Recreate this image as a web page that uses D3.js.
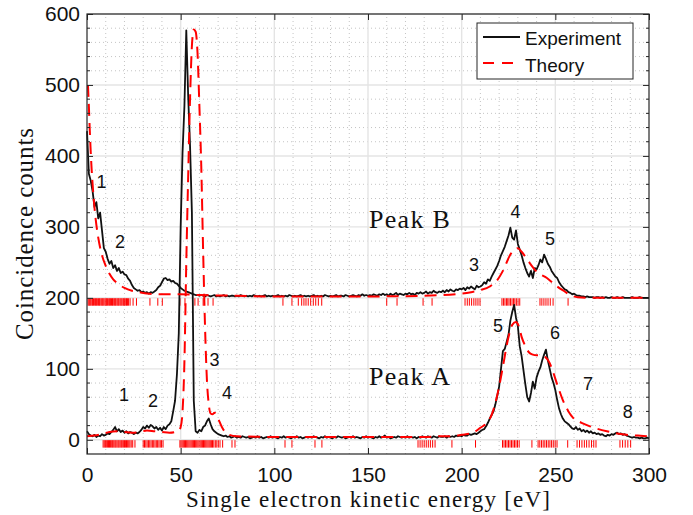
<!DOCTYPE html>
<html>
<head>
<meta charset="utf-8">
<script src="https://cdn.jsdelivr.net/npm/d3@7"></script>
<style>
  body { margin: 0; background: #fff; }
  svg { display: block; }
</style>
</head>
<body>
<svg id="chart" width="693" height="515"></svg>
<script>
// ---- Data -----------------------------------------------------------------
// Measured coincidence counts, 1 eV bins from 0 to 300 eV.
const energy = d3.range(0, 301, 1);

// Peak A (plotted without offset)
const expPeakA = [
  12, 8, 6, 5, 7, 4, 6, 5, 8, 6,
  7, 9, 8, 11, 14, 18, 12, 15, 11, 13,
  10, 12, 9, 11, 10, 8, 10, 9, 11, 14,
  18, 16, 20, 17, 21, 19, 16, 18, 14, 17,
  13, 18, 15, 20, 22, 26, 40, 55, 92, 150,
  300, 405, 470, 577, 485, 415, 320, 55, 12, 10,
  14, 12, 18, 20, 26, 30, 22, 15, 12, 10,
  8, 7, 6, 5, 6, 4, 5, 3, 4, 5,
  3, 4, 3, 5, 4, 3, 4, 2, 3, 4,
  3, 5, 3, 4, 2, 3, 4, 3, 5, 3,
  4, 3, 2, 4, 3, 5, 3, 4, 3, 2,
  4, 3, 5, 3, 4, 2, 3, 4, 3, 4,
  3, 5, 4, 3, 2, 4, 3, 5, 3, 4,
  3, 2, 4, 3, 5, 4, 3, 4, 2, 3,
  4, 3, 5, 3, 4, 3, 2, 4, 3, 5,
  3, 4, 3, 2, 4, 3, 5, 3, 4, 6,
  3, 4, 2, 3, 4, 3, 5, 4, 3, 4,
  3, 5, 3, 4, 3, 4, 2, 4, 3, 5,
  4, 3, 5, 4, 3, 5, 4, 3, 5, 4,
  4, 5, 3, 5, 4, 5, 4, 6, 5, 6,
  5, 7, 6, 6, 8, 7, 8, 9, 8, 10,
  12, 14, 15, 19, 24, 30, 35, 40, 50, 62,
  75, 100, 125, 128, 138, 148, 168, 180, 190, 172,
  160, 132, 118, 98, 78, 60, 54, 66, 82, 72,
  88, 96, 102, 112, 120, 127, 112, 100, 88, 80,
  70, 56, 44, 36, 30, 26, 24, 22, 19, 16,
  15, 18, 14, 16, 12, 14, 11, 13, 10, 12,
  9, 10, 8, 9, 7, 8, 6, 5, 7, 6,
  8, 7, 9, 10, 8, 9, 7, 8, 6, 5,
  4, 3, 4, 3, 3, 2, 3, 2, 2, 3,
  2
];

// Peak B (plotted shifted up by peakBOffset)
const expPeakB = [
  235, 175, 165, 150, 128, 135, 112, 120, 95, 70,
  65, 55, 48, 52, 42, 46, 38, 42, 35, 37,
  33, 32, 27, 24, 18, 14, 12, 10, 11, 8,
  9, 7, 8, 6, 8, 7, 9, 11, 15, 17,
  22, 27, 28, 25, 26, 23, 24, 21, 20, 17,
  14, 12, 10, 9, 8, 7, 6, 5, 4, 4,
  3, 4, 3, 2, 4, 3, 2, 3, 4, 2,
  3, 2, 3, 4, 2, 3, 2, 3, 3, 2,
  3, 2, 4, 3, 2, 3, 2, 3, 2, 4,
  3, 2, 3, 2, 3, 4, 2, 3, 2, 3,
  2, 3, 4, 2, 3, 2, 3, 2, 4, 3,
  2, 3, 2, 3, 4, 2, 3, 2, 3, 2,
  3, 4, 2, 3, 2, 3, 2, 4, 3, 2,
  3, 2, 3, 4, 2, 3, 3, 2, 4, 3,
  2, 3, 4, 3, 2, 4, 3, 5, 3, 4,
  3, 4, 3, 5, 4, 3, 5, 4, 6, 4,
  5, 3, 6, 4, 5, 7, 4, 6, 5, 4,
  6, 5, 7, 5, 6, 4, 7, 6, 8, 6,
  7, 9, 6, 8, 7, 10, 8, 7, 9, 8,
  10, 8, 11, 9, 12, 10, 9, 12, 11, 13,
  12, 14, 11, 15, 13, 16, 14, 12, 17, 15,
  16, 18, 22, 20, 26, 24, 30, 35, 40, 45,
  52, 60, 66, 72, 80, 88, 99, 85, 82, 95,
  76, 68, 60, 50, 42, 35, 30, 38, 28, 42,
  40, 46, 54, 50, 61, 55, 48, 44, 38, 34,
  30, 28, 22, 18, 15, 12, 11, 8, 7, 5,
  6, 4, 3, 3, 2, 2, 1, 2, 1, 1,
  1, 0, 1, 1, 0, 1, 0, 1, 0, 0,
  1, 0, 0, 1, 0, 0, 1, 0, 0, 0,
  0, 1, 0, 0, 0, 1, 0, 0, 0, 0,
  0
];

const peakBOffset = 200;

// Theoretical spectra: [energy (eV), counts]
const theoryA = [
  [0, 5], [4, 6], [8, 8], [12, 11], [16, 12], [20, 11], [24, 10], [28, 11],
  [32, 13], [36, 12], [40, 11], [44, 10], [47, 11], [49, 13], [50, 18],
  [51, 40], [52, 110], [53, 250], [54, 370], [55, 480], [56, 555], [57, 578],
  [58, 575], [59, 545], [60, 470], [61, 385], [62, 265], [63, 160], [64, 85],
  [65, 50], [66, 37], [67, 36], [68, 38], [69, 36], [70, 30], [72, 18],
  [74, 10], [76, 7], [80, 5], [100, 4], [150, 4], [180, 4], [190, 5],
  [194, 5], [200, 7], [206, 10], [210, 17], [213.5, 24], [216, 35], [218, 52],
  [220, 75], [222, 103], [225, 145], [227, 162], [229, 166], [230.5, 160],
  [232, 145], [234, 132], [236, 123], [238, 120], [240, 119], [242, 119],
  [244.5, 117], [247, 108], [249, 94], [251, 78], [254, 56], [257, 40],
  [259.5, 31], [264, 24], [268.5, 19], [273, 15], [277.5, 12], [283, 9],
  [288, 7], [294, 6], [300, 5]
];

const theoryB = [
  [0.5, 300], [1, 270], [1.5, 235], [2, 205], [2.5, 180], [3, 160], [3.5, 142],
  [4, 127], [5, 103], [6, 85], [7, 71], [8, 60], [10, 45], [12, 34], [14, 26],
  [16, 21], [20, 14], [24, 10], [28, 8], [32, 6], [40, 5], [50, 5], [60, 4],
  [80, 3], [100, 2], [150, 2], [180, 3], [200, 6], [205, 8], [210, 11],
  [215, 16], [219, 25], [222, 38], [226, 61], [228, 68], [230, 70], [232, 65],
  [235, 54], [240, 37], [245.5, 28], [251, 16], [255, 9], [258, 4], [262, 1],
  [270, 0], [300, 0]
];

// Energies of the red rug marks under each spectrum
const rugB = [
  0.6, 1.1, 1.5, 2.0, 2.6, 3.0, 3.5, 4.1, 4.6, 5.0, 5.5, 6.1, 6.6, 7.0, 7.6,
  8.1, 8.5, 9.0, 9.6, 10.1, 10.5, 11.0, 11.6, 12.1, 12.5, 13.1, 13.6, 14.0,
  14.6, 15.1, 15.5, 16.1, 16.6, 17.0, 17.6, 18.1, 18.6, 19.2, 19.6, 20.1,
  20.7, 21.1, 21.6, 22.2, 23.0, 24.6, 26.4,
  33.6, 37.8, 40.2, 49.6, 52.3, 57.6, 59.3, 62.0, 64.6, 67.3,
  104.6, 109.4, 112.8, 114.6, 115.8, 116.9, 118.1, 119.4, 120.8, 122.1,
  123.5, 125.3,
  160.0, 165.5, 179.4, 184.2,
  201.8, 203.0, 204.1, 205.3, 206.5, 207.6, 208.7, 209.8,
  221.5, 222.3, 223.1, 223.9, 224.6, 225.3, 226.1, 226.9, 227.7, 228.4,
  229.2, 230.1, 231.0,
  241.8, 242.8, 243.9, 245.0, 246.1, 247.3, 248.8,
  256.8
];

const rugA = [
  8.6, 9.2, 9.8, 10.3, 10.9, 11.5, 12.0, 12.6, 13.2, 13.7, 14.3, 14.9, 15.4,
  16.0, 16.6, 17.1, 17.7, 18.3, 18.8, 19.4, 20.0, 20.5, 21.1, 21.7, 22.3,
  22.9, 23.6, 24.4, 25.6,
  30.0, 30.7, 31.4, 32.1, 32.8, 33.5, 34.2, 34.9, 35.6, 36.3, 37.0, 37.7,
  38.4, 39.1, 39.8, 40.6,
  49.6, 50.2, 50.8, 51.4, 52.0, 52.6, 53.2, 53.8, 54.4, 55.0, 55.6, 56.2,
  56.8, 57.4, 58.0, 58.6, 59.2, 59.8, 60.4, 61.0, 61.6, 62.2, 62.8, 63.4,
  64.0, 64.6, 65.2, 65.8, 66.4, 67.0, 67.7, 68.5, 69.3, 70.1, 71.0, 72.4,
  77.4, 79.0, 105.7, 109.4, 121.7, 125.4,
  176.7, 177.8, 178.9, 180.0, 181.1, 182.2, 183.3, 184.5, 185.8,
  194.8, 207.4,
  221.8, 222.6, 223.4, 224.2, 225.0, 225.8, 226.6, 227.4, 228.2, 229.0,
  229.8, 230.7,
  237.5,
  240.8, 241.7, 242.6, 243.5, 244.4, 245.3, 246.2, 247.1, 248.0, 248.9,
  249.9, 250.9,
  256.6,
  261.6, 262.9, 264.2, 265.5, 266.7, 268.0, 269.3, 270.5, 271.7,
  284.5, 285.9, 287.3, 288.7, 290.2
];

// Axis ticks
const xTicks = [0, 50, 100, 150, 200, 250, 300];
const yTicks = [0, 100, 200, 300, 400, 500, 600];

// Peak annotations, anchored in data coordinates
const annotations = [
  { text: "1", e: 7.7, c: 355 },
  { text: "2", e: 17.6, c: 270 },
  { text: "3", e: 206.6, c: 238 },
  { text: "4", e: 228.7, c: 312 },
  { text: "5", e: 247.2, c: 274 },
  { text: "1", e: 19.8, c: 55 },
  { text: "2", e: 35.2, c: 46 },
  { text: "3", e: 68.1, c: 104 },
  { text: "4", e: 74.7, c: 57 },
  { text: "5", e: 219.4, c: 152 },
  { text: "6", e: 249.8, c: 142 },
  { text: "7", e: 267.4, c: 70 },
  { text: "8", e: 288.7, c: 31 }
];
const peakNames = [
  { text: "Peak B", e: 150.5, c: 298 },
  { text: "Peak A", e: 150.5, c: 77 }
];

// ---- Layout ---------------------------------------------------------------
const svg = d3.select("#chart");
const x = d3.scaleLinear().domain([0, 300]).range([87, 649]);
const y = d3.scaleLinear().domain([-20, 600]).range([454, 14]);
const [x0, x1] = x.range();
const [yB, yT] = y.range();

const sans = "'Liberation Sans', Arial, Helvetica, sans-serif";
const serif = "'Liberation Serif', 'Times New Roman', serif";
const ink = "#262626";

// ---- Grid -----------------------------------------------------------------
const grid = svg.append("g");
const xMinor = d3.range(10, 300, 10).filter(v => v % 50 !== 0);
const yMinor = d3.range(-20, 600, 20).filter(v => v % 100 !== 0 && v > -20);

grid.selectAll("line.xm").data(xMinor).join("line")
  .attr("x1", d => x(d)).attr("x2", d => x(d))
  .attr("y1", yB).attr("y2", yT)
  .attr("stroke", "#c4c4c4").attr("stroke-width", 1)
  .attr("stroke-dasharray", "1,3");
grid.selectAll("line.ym").data(yMinor).join("line")
  .attr("x1", x0).attr("x2", x1)
  .attr("y1", d => y(d)).attr("y2", d => y(d))
  .attr("stroke", "#c4c4c4").attr("stroke-width", 1)
  .attr("stroke-dasharray", "1,3");
grid.selectAll("line.xM").data(xTicks.slice(1, -1)).join("line")
  .attr("x1", d => x(d)).attr("x2", d => x(d))
  .attr("y1", yB).attr("y2", yT)
  .attr("stroke", "#e4e4e4").attr("stroke-width", 1.4);
grid.selectAll("line.yM").data(yTicks).join("line")
  .attr("x1", x0).attr("x2", x1)
  .attr("y1", d => y(d)).attr("y2", d => y(d))
  .attr("stroke", "#e4e4e4").attr("stroke-width", 1.4);

// ---- Series ---------------------------------------------------------------
const line = d3.line().x(d => x(d[0])).y(d => y(d[1]));
const smooth = d3.line().x(d => x(d[0])).y(d => y(d[1])).curve(d3.curveMonotoneX);

const seriesA = energy.map((e, i) => [e, expPeakA[i]]);
const seriesB = energy.map((e, i) => [e, expPeakB[i] + peakBOffset]);
const theoryBShifted = theoryB.map(([e, c]) => [e, c + peakBOffset]);

const plot = svg.append("g");

// rug marks
const rugLen = 11;
plot.selectAll("line.rugB").data(rugB).join("line")
  .attr("x1", d => x(d)).attr("x2", d => x(d))
  .attr("y1", y(peakBOffset - 0.5)).attr("y2", y(peakBOffset - rugLen))
  .attr("stroke", "#ff0000").attr("stroke-width", 1);
plot.selectAll("line.rugA").data(rugA).join("line")
  .attr("x1", d => x(d)).attr("x2", d => x(d))
  .attr("y1", y(-0.5)).attr("y2", y(-rugLen))
  .attr("stroke", "#ff0000").attr("stroke-width", 1);

[seriesB, seriesA].forEach(s => {
  plot.append("path").datum(s)
    .attr("d", line)
    .attr("fill", "none").attr("stroke", "#111")
    .attr("stroke-width", 1.8).attr("stroke-linejoin", "round");
});

[theoryBShifted, theoryA].forEach(s => {
  plot.append("path").datum(s)
    .attr("d", smooth)
    .attr("fill", "none").attr("stroke", "#ff0000")
    .attr("stroke-width", 2).attr("stroke-dasharray", "12,7");
});

// ---- Axes -----------------------------------------------------------------
function styleAxis(g) {
  g.select(".domain").remove();
  g.selectAll(".tick line").attr("stroke", ink).attr("stroke-width", 1);
  g.selectAll(".tick text").attr("fill", "#111")
    .style("font-family", sans).style("font-size", "21px");
}

svg.append("g").attr("transform", `translate(0,${yB})`)
  .call(d3.axisBottom(x).tickValues(xTicks).tickSizeInner(-6).tickSizeOuter(0).tickPadding(13))
  .call(styleAxis);
svg.append("g").attr("transform", `translate(0,${yT})`)
  .call(d3.axisTop(x).tickValues(xTicks).tickSizeInner(-6).tickSizeOuter(0).tickFormat(""))
  .call(styleAxis);
svg.append("g").attr("transform", `translate(${x0},0)`)
  .call(d3.axisLeft(y).tickValues(yTicks).tickSizeInner(-6).tickSizeOuter(0).tickPadding(7))
  .call(styleAxis);
svg.append("g").attr("transform", `translate(${x1},0)`)
  .call(d3.axisRight(y).tickValues(yTicks).tickSizeInner(-6).tickSizeOuter(0).tickFormat(""))
  .call(styleAxis);

// minor y ticks on both sides
svg.append("g").selectAll("line").data(yMinor).join("line")
  .attr("x1", x0).attr("x2", x0 + 3)
  .attr("y1", d => y(d)).attr("y2", d => y(d))
  .attr("stroke", ink);
svg.append("g").selectAll("line").data(yMinor).join("line")
  .attr("x1", x1).attr("x2", x1 - 3)
  .attr("y1", d => y(d)).attr("y2", d => y(d))
  .attr("stroke", ink);

// axes box
svg.append("rect")
  .attr("x", x0).attr("y", yT)
  .attr("width", x1 - x0).attr("height", yB - yT)
  .attr("fill", "none").attr("stroke", ink).attr("stroke-width", 1.2);

// ---- Labels ---------------------------------------------------------------
svg.append("text")
  .attr("x", (x0 + x1) / 2).attr("y", 507)
  .attr("text-anchor", "middle")
  .attr("textLength", 364).attr("lengthAdjust", "spacing")
  .style("font-family", serif).style("font-size", "23px").attr("fill", "#111")
  .text("Single electron kinetic energy [eV]");

svg.append("text")
  .attr("transform", `translate(33,${(yB + yT) / 2}) rotate(-90)`)
  .attr("text-anchor", "middle")
  .attr("textLength", 212).attr("lengthAdjust", "spacing")
  .style("font-family", serif).style("font-size", "25px").attr("fill", "#111")
  .text("Coincidence counts");

svg.append("g").selectAll("text").data(annotations).join("text")
  .attr("x", d => x(d.e)).attr("y", d => y(d.c))
  .attr("text-anchor", "middle")
  .style("font-family", sans).style("font-size", "18px").attr("fill", "#111")
  .text(d => d.text);

svg.append("g").selectAll("text").data(peakNames).join("text")
  .attr("x", d => x(d.e)).attr("y", d => y(d.c))
  .attr("textLength", 81).attr("lengthAdjust", "spacing")
  .style("font-family", serif).style("font-size", "26px").attr("fill", "#111")
  .text(d => d.text);

// ---- Legend ---------------------------------------------------------------
const legend = svg.append("g").attr("transform", "translate(477,23)");
legend.append("rect")
  .attr("width", 156).attr("height", 56)
  .attr("fill", "#fff").attr("stroke", ink).attr("stroke-width", 1);
legend.append("line")
  .attr("x1", 6).attr("x2", 43).attr("y1", 14).attr("y2", 14)
  .attr("stroke", "#111").attr("stroke-width", 2);
legend.append("line")
  .attr("x1", 6).attr("x2", 43).attr("y1", 40).attr("y2", 40)
  .attr("stroke", "#ff0000").attr("stroke-width", 2).attr("stroke-dasharray", "11,8");
legend.append("text").attr("x", 48).attr("y", 22)
  .style("font-family", sans).style("font-size", "19px").attr("fill", "#111")
  .text("Experiment");
legend.append("text").attr("x", 48).attr("y", 49)
  .style("font-family", sans).style("font-size", "19px").attr("fill", "#111")
  .text("Theory");
</script>
</body>
</html>
